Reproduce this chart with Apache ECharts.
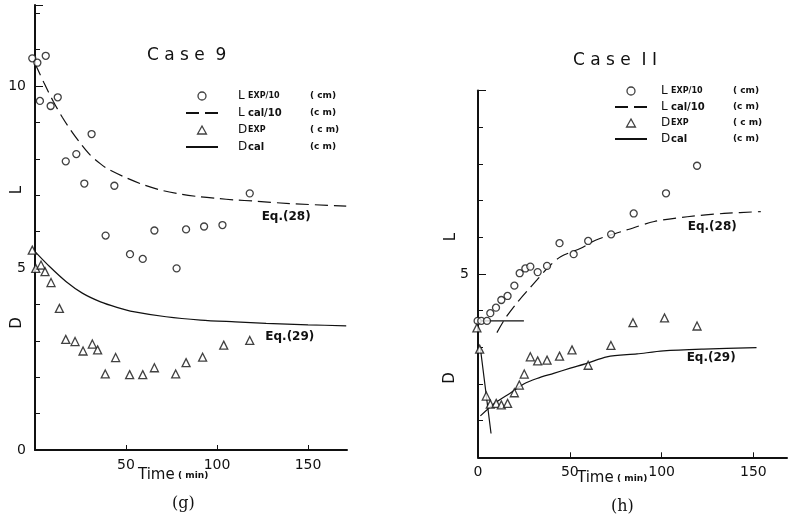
<!DOCTYPE html>
<html><head><meta charset="utf-8">
<script src="https://cdn.jsdelivr.net/npm/echarts@6/dist/echarts.min.js"></script>
<style>html,body{margin:0;padding:0;background:#fff}#c{width:788px;height:521px}</style>
</head><body><div id="c"></div>
<script>
// ---------- Case 9 (g) ----------
var g_LexpT = [-1.5, 1.3, 5.9, 2.7, 8.6, 12.5, 31.1, 16.9, 22.7, 27.1, 43.6, 118, 38.8, 65.6, 83, 92.9, 103, 52.2, 59.2, 77.8];
var g_LexpV = [10.76, 10.64, 10.83, 9.59, 9.45, 9.69, 8.68, 7.93, 8.13, 7.32, 7.26, 7.05, 5.89, 6.03, 6.06, 6.14, 6.18, 5.38, 5.25, 4.99];
var g_LcalT = [0, 5, 10, 15, 20, 25, 30, 36, 40, 50, 60, 70, 80, 90, 100, 110, 120, 140, 171];
var g_LcalV = [10.62, 10.08, 9.58, 9.14, 8.76, 8.42, 8.12, 7.86, 7.72, 7.48, 7.28, 7.13, 7.03, 6.96, 6.91, 6.87, 6.84, 6.77, 6.70];
var g_DexpT = [-1.5, 0.4, 3.3, 5.5, 8.8, 13.4, 16.9, 22, 26.4, 31.5, 34.4, 44.3, 38.6, 52, 59.2, 65.6, 77.3, 83, 92.1, 103.7, 118];
var g_DexpV = [5.49, 4.99, 5.08, 4.90, 4.60, 3.89, 3.04, 2.98, 2.72, 2.91, 2.75, 2.54, 2.09, 2.07, 2.07, 2.26, 2.09, 2.40, 2.55, 2.88, 3.01];
var g_DcalT = [0, 8, 17, 26, 36, 45, 54, 72, 91, 110, 127, 150, 171];
var g_DcalV = [5.45, 5.04, 4.63, 4.31, 4.07, 3.92, 3.80, 3.66, 3.57, 3.52, 3.48, 3.44, 3.41];
// ---------- Case 11 (h) ----------
var h_LexpT = [-0.2, 1.8, 4.9, 6.7, 9.8, 12.7, 16.1, 19.8, 22.7, 25.8, 28.5, 32.5, 37.6, 44.4, 52.1, 60, 72.5, 84.8, 102.4, 119.3];
var h_LexpV = [3.72, 3.72, 3.72, 3.93, 4.08, 4.29, 4.40, 4.68, 5.02, 5.15, 5.20, 5.05, 5.22, 5.84, 5.54, 5.90, 6.08, 6.65, 7.20, 7.95];
var h_LcalT = [10.3, 15, 21, 27, 32, 38, 45, 56, 64, 72, 81, 96, 114, 134, 154];
var h_LcalV = [3.40, 3.80, 4.20, 4.55, 4.83, 5.17, 5.47, 5.70, 5.92, 6.06, 6.20, 6.43, 6.56, 6.65, 6.70];
var h_DexpT = [-0.6, 0.9, 4.5, 6.7, 9.9, 12.7, 16.1, 19.8, 22.5, 25.2, 28.5, 32.5, 37.6, 44.4, 51.2, 60, 72.4, 84.4, 101.6, 119.3];
var h_DexpV = [3.53, 2.95, 1.67, 1.45, 1.47, 1.43, 1.47, 1.76, 1.97, 2.27, 2.74, 2.63, 2.65, 2.76, 2.93, 2.51, 3.05, 3.67, 3.80, 3.58];
var h_DcalT = [1.3, 10.3, 17.5, 24.9, 32.1, 41.2, 50.3, 59.3, 70.2, 86.6, 101, 122.9, 151.7];
var h_DcalV = [1.13, 1.52, 1.75, 2.00, 2.15, 2.29, 2.43, 2.56, 2.74, 2.82, 2.90, 2.95, 2.99];
var h_initLT = [0, 25];     // horizontal initial-L segment
var h_initLV = [3.72, 3.72];
var h_initDT = [1.3, 7.1];  // steep initial-D segment
var h_initDV = [2.97, 0.65];
// annotation anchors [t, value]
var eqAnchors = [
  {grid: 0, t: 138, v: 6.40, text: 'Eq.(28)'},
  {grid: 0, t: 140, v: 3.10, text: 'Eq.(29)'},
  {grid: 1, t: 127.6, v: 6.28, text: 'Eq.(28)'},
  {grid: 1, t: 127, v: 2.71, text: 'Eq.(29)'}
];

function zip(a, b) { return a.map(function (x, i) { return [x, b[i]]; }); }

var FONT = 'DejaVu Sans';
var INK = '#111';
var chart = echarts.init(document.getElementById('c'), null, {renderer: 'canvas'});

function xAxisDef(idx, max, hideZero) {
  return {
    type: 'value', gridIndex: idx, min: 0, max: max, interval: 50,
    axisLine: {show: true, onZero: false, lineStyle: {color: INK, width: 2}},
    axisTick: {show: true, inside: true, length: 5, lineStyle: {color: INK, width: 1}},
    axisLabel: {color: INK, fontFamily: FONT, fontSize: 14, margin: 8, showMaxLabel: false,
      formatter: function (v) { return (v % 50 !== 0 || (hideZero && v === 0)) ? '' : String(v); }},
    splitLine: {show: false}
  };
}
function yAxisDef(idx, max, onlyFive) {
  return {
    type: 'value', gridIndex: idx, min: 0, max: max, interval: 5,
    axisLine: {show: true, onZero: false, lineStyle: {color: INK, width: 2}},
    axisTick: {show: true, inside: true, length: 8, lineStyle: {color: INK, width: 1}},
    minorTick: {show: true, splitNumber: 5, length: 5, lineStyle: {color: INK, width: 1}},
    axisLabel: {color: INK, fontFamily: FONT, fontSize: 14, margin: 9, showMaxLabel: false,
      formatter: function (v) { if (v % 5 !== 0) return ''; return onlyFive ? (v === 5 ? '5' : '') : String(v); }},
    splitLine: {show: false}, minorSplitLine: {show: false}
  };
}

var legRich = {
  sp: {width: 15},
  sp2: {width: 9},
  b: {fontFamily: FONT, fontSize: 12, color: INK, width: 10},
  s: {fontFamily: FONT, fontSize: 8, fontWeight: 'bold', color: INK, width: 62},
  c: {fontFamily: FONT, fontSize: 10, fontWeight: 'bold', color: INK, width: 62},
  u: {fontFamily: FONT, fontSize: 9, fontWeight: 'bold', color: INK}
};
var legTxt = {
  Lexp: '{b|L}{s|EXP/10}{u|( cm)}',
  Lcal: '{b|L}{c|cal/10}{u|(c m)}',
  Dexp: '{b|D}{s|EXP}{u|( c m)}',
  Dcal: '{b|D}{c|cal}{u|(c m)}'
};
var hollow = {color: '#fff', borderColor: INK, borderWidth: 1.3};
function legendDef(left, top, sp, gap) {
  return {
    orient: 'vertical', left: left, top: top, itemWidth: 32, itemHeight: 8, itemGap: gap,
    data: [
      {name: 'Lexp', icon: 'circle', itemStyle: hollow},
      {name: 'Lcal', itemStyle: {opacity: 0}},
      {name: 'Dexp', icon: 'path://M5,0 L10,9 L0,9 Z', itemStyle: hollow},
      {name: 'Dcal', itemStyle: {opacity: 0}}
    ],
    symbolKeepAspect: true,
    selectedMode: false,
    formatter: function (n) { return '{' + sp + '|}' + legTxt[n]; },
    textStyle: {rich: legRich, color: INK}
  };
}

function scatter(name, idx, data, sym) {
  return {name: name, type: 'scatter', xAxisIndex: idx, yAxisIndex: idx, data: data,
    symbol: sym, symbolSize: sym === 'circle' ? 7 : 8, clip: false,
    itemStyle: hollow, z: 5};
}
function line(name, idx, data, dashed) {
  return {name: name, type: 'line', xAxisIndex: idx, yAxisIndex: idx, data: data,
    symbol: 'none', smooth: 0.3, clip: false,
    lineStyle: {color: INK, width: 1.2, type: dashed ? [13, 6] : 'solid'},
    itemStyle: {color: INK}};
}

var option = {
  backgroundColor: '#fff',
  animation: false,
  grid: [
    {left: 35, top: 5, width: 312, height: 445, outerBoundsMode: 'none', containLabel: false},
    {left: 478, top: 90.6, width: 309, height: 366.7, outerBoundsMode: 'none', containLabel: false}
  ],
  xAxis: [xAxisDef(0, 171.43, true), xAxisDef(1, 168.3, false)],
  yAxis: [yAxisDef(0, 12.225, false), yAxisDef(1, 10, true)],
  legend: [legendDef(180, 85, 'sp', 5), legendDef(609, 80, 'sp2', 4)],
  series: [
    scatter('Lexp', 0, zip(g_LexpT, g_LexpV), 'circle'),
    line('Lcal', 0, zip(g_LcalT, g_LcalV), true),
    scatter('Dexp', 0, zip(g_DexpT, g_DexpV), 'triangle'),
    line('Dcal', 0, zip(g_DcalT, g_DcalV), false),
    scatter('Lexp', 1, zip(h_LexpT, h_LexpV), 'circle'),
    line('Lcal', 1, zip(h_LcalT, h_LcalV), true),
    scatter('Dexp', 1, zip(h_DexpT, h_DexpV), 'triangle'),
    line('Dcal', 1, zip(h_DcalT, h_DcalV), false),
    {name: 'initL', type: 'line', xAxisIndex: 1, yAxisIndex: 1, data: zip(h_initLT, h_initLV),
      symbol: 'none', clip: false, lineStyle: {color: INK, width: 1.2}},
    {name: 'initD', type: 'line', xAxisIndex: 1, yAxisIndex: 1, data: zip(h_initDT, h_initDV),
      symbol: 'none', clip: false, lineStyle: {color: INK, width: 1.2}}
  ]
};
chart.setOption(option);

var rot = function (x, y, text) {
  return {type: 'text', x: x, y: y, rotation: Math.PI / 2,
    style: {x: 0, y: 0, text: text, font: '15px "' + FONT + '"', fill: INK, align: 'center', verticalAlign: 'middle'}};
};
var timeRich = {
  a: {fontFamily: FONT, fontSize: 15, color: INK},
  m: {fontFamily: FONT, fontSize: 9, fontWeight: 'bold', color: INK}
};
var graphics = [
  {type: 'text', left: 147, top: 47, style: {text: 'C a s e  9', font: '17px "' + FONT + '"', fill: INK}},
  {type: 'text', left: 573, top: 52, style: {text: 'C a s e  I I', font: '17px "' + FONT + '"', fill: INK}},
  rot(17, 190, 'L'), rot(17, 323, 'D'),
  rot(451, 237, 'L'), rot(450, 378, 'D'),
  {type: 'text', left: 138, top: 468, style: {text: '{a|Time} {m|( min)}', rich: timeRich, fill: INK}},
  {type: 'text', left: 577, top: 471, style: {text: '{a|Time} {m|( min)}', rich: timeRich, fill: INK}},
  {type: 'text', left: 172, top: 496, style: {text: '(g)', font: '16px "DejaVu Serif"', fill: INK}},
  {type: 'text', left: 611, top: 499, style: {text: '(h)', font: '16px "DejaVu Serif"', fill: INK}}
];
eqAnchors.forEach(function (a) {
  var p = chart.convertToPixel({gridIndex: a.grid}, [a.t, a.v]);
  graphics.push({type: 'text', x: p[0], y: p[1],
    style: {x: 0, y: 0, text: a.text, font: 'bold 12px "' + FONT + '"', fill: INK, align: 'center', verticalAlign: 'middle'}});
});
chart.setOption({graphic: graphics});
</script>
</body></html>
